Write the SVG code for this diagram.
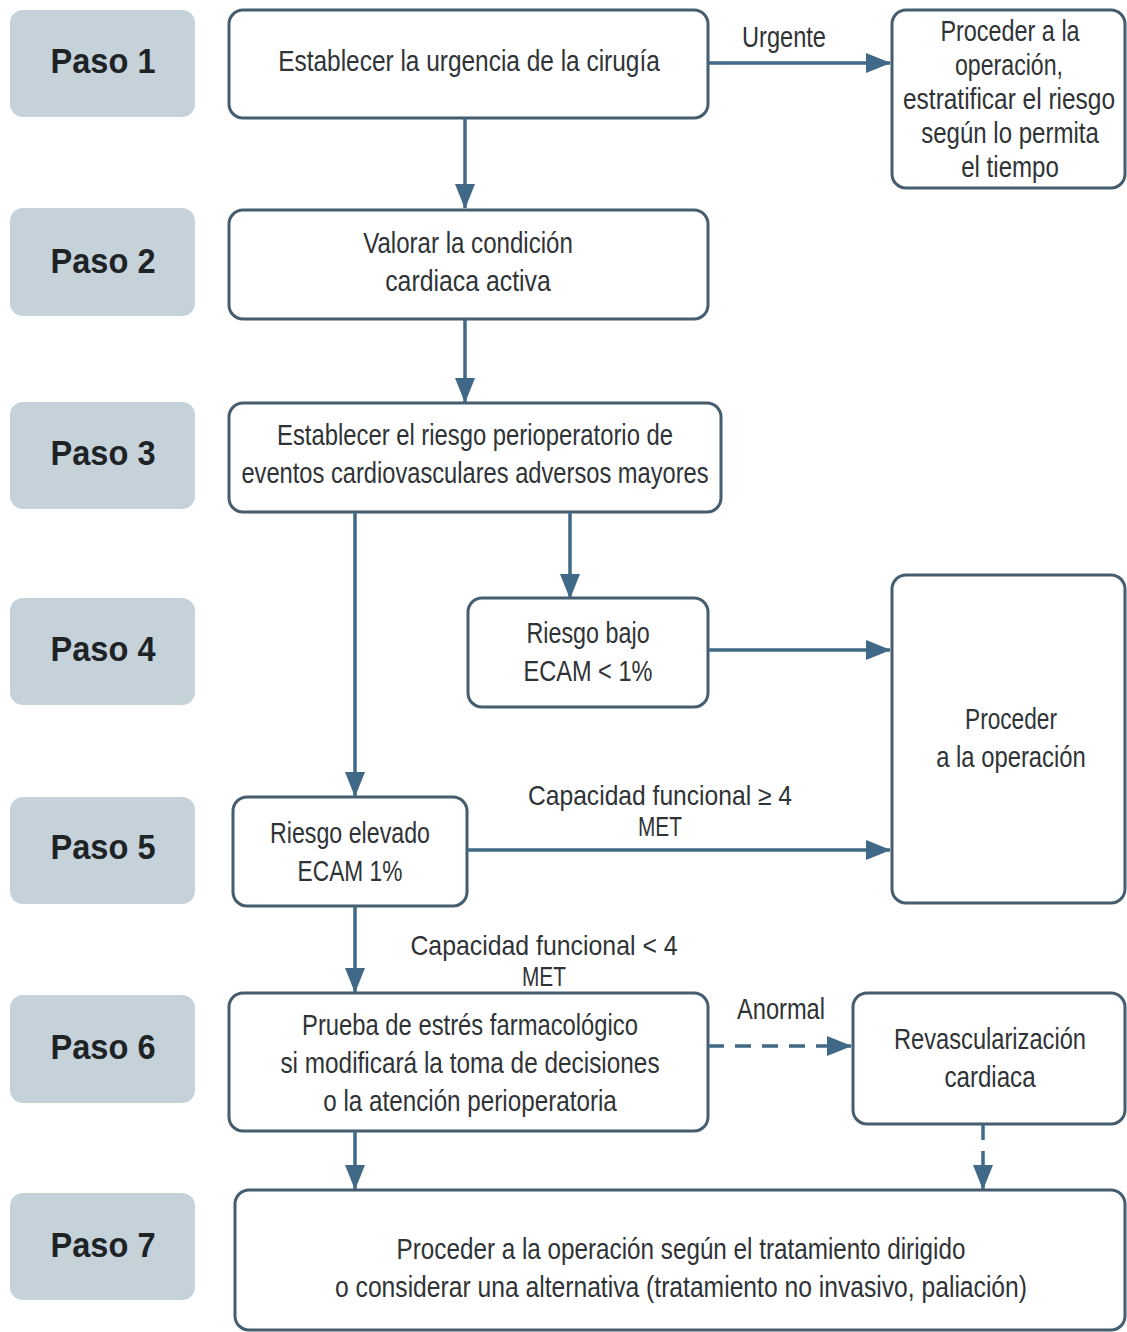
<svg xmlns="http://www.w3.org/2000/svg" width="1127" height="1332" viewBox="0 0 1127 1332">
  <style>
    .step rect { fill: #c6d2da; stroke: none; }
    .step text { font-family: "Liberation Sans", Arial, sans-serif; font-weight: bold; font-size: 35px; fill: #1e2326; text-anchor: middle; }
    .box rect { fill: #ffffff; stroke: #455d6e; stroke-width: 3; }
    text.t { font-family: "Liberation Sans", Arial, sans-serif; font-size: 29px; fill: #2f3336; text-anchor: middle; }
    text.t.sm { font-size: 27px; }
    .edge { fill: none; stroke: #3f6986; stroke-width: 3.5; }
    .dash { stroke-dasharray: 16 11; }
  </style>
  <defs>
    <marker id="arrow" markerUnits="userSpaceOnUse" markerWidth="26" markerHeight="22" refX="24" refY="11" orient="auto">
      <path d="M0,1 L25,11 L0,21 Z" fill="#3f6986"/>
    </marker>
  </defs>
  <rect width="1127" height="1332" fill="#ffffff"/>

  <!-- step labels -->
  <g id="paso1" class="step"><rect x="10" y="10" width="185" height="107" rx="13"/><text x="103" y="73" textLength="105" lengthAdjust="spacingAndGlyphs">Paso 1</text></g>
  <g id="paso2" class="step"><rect x="10" y="208" width="185" height="108" rx="13"/><text x="103" y="273" textLength="105" lengthAdjust="spacingAndGlyphs">Paso 2</text></g>
  <g id="paso3" class="step"><rect x="10" y="402" width="185" height="107" rx="13"/><text x="103" y="465" textLength="105" lengthAdjust="spacingAndGlyphs">Paso 3</text></g>
  <g id="paso4" class="step"><rect x="10" y="598" width="185" height="107" rx="13"/><text x="103" y="661" textLength="105" lengthAdjust="spacingAndGlyphs">Paso 4</text></g>
  <g id="paso5" class="step"><rect x="10" y="797" width="185" height="107" rx="13"/><text x="103" y="859" textLength="105" lengthAdjust="spacingAndGlyphs">Paso 5</text></g>
  <g id="paso6" class="step"><rect x="10" y="995" width="185" height="108" rx="13"/><text x="103" y="1059" textLength="105" lengthAdjust="spacingAndGlyphs">Paso 6</text></g>
  <g id="paso7" class="step"><rect x="10" y="1193" width="185" height="107" rx="13"/><text x="103" y="1257" textLength="105" lengthAdjust="spacingAndGlyphs">Paso 7</text></g>

  <!-- flow nodes; body text is narrowed with a horizontal scale of 0.8 -->
  <g id="urgencia" class="box">
    <rect x="229" y="10" width="479" height="108" rx="14"/>
    <text class="t" transform="translate(469 71) scale(0.8 1)" textLength="477" lengthAdjust="spacingAndGlyphs">Establecer la urgencia de la cirugía</text>
  </g>
  <g id="operar-urgente" class="box">
    <rect x="892" y="10" width="233" height="178" rx="14"/>
    <text class="t" transform="translate(1010 41) scale(0.8 1)" textLength="174" lengthAdjust="spacingAndGlyphs">Proceder a la</text>
    <text class="t" transform="translate(1009 75) scale(0.8 1)" textLength="135" lengthAdjust="spacingAndGlyphs">operación,</text>
    <text class="t" transform="translate(1009 109) scale(0.8 1)" textLength="265" lengthAdjust="spacingAndGlyphs">estratificar el riesgo</text>
    <text class="t" transform="translate(1010 143) scale(0.8 1)" textLength="222" lengthAdjust="spacingAndGlyphs">según lo permita</text>
    <text class="t" transform="translate(1010 177) scale(0.8 1)" textLength="122" lengthAdjust="spacingAndGlyphs">el tiempo</text>
  </g>
  <g id="condicion" class="box">
    <rect x="229" y="210" width="479" height="109" rx="14"/>
    <text class="t" transform="translate(468 253) scale(0.8 1)" textLength="262" lengthAdjust="spacingAndGlyphs">Valorar la condición</text>
    <text class="t" transform="translate(468 291) scale(0.8 1)" textLength="207" lengthAdjust="spacingAndGlyphs">cardiaca activa</text>
  </g>
  <g id="riesgo" class="box">
    <rect x="229" y="403" width="492" height="109" rx="14"/>
    <text class="t" transform="translate(475 445) scale(0.8 1)" textLength="495" lengthAdjust="spacingAndGlyphs">Establecer el riesgo perioperatorio de</text>
    <text class="t" transform="translate(475 483) scale(0.8 1)" textLength="584" lengthAdjust="spacingAndGlyphs">eventos cardiovasculares adversos mayores</text>
  </g>
  <g id="riesgo-bajo" class="box">
    <rect x="468" y="598" width="240" height="109" rx="14"/>
    <text class="t" transform="translate(588 643) scale(0.8 1)" textLength="154" lengthAdjust="spacingAndGlyphs">Riesgo bajo</text>
    <text class="t" transform="translate(588 681) scale(0.8 1)" textLength="161" lengthAdjust="spacingAndGlyphs">ECAM &lt; 1%</text>
  </g>
  <g id="operar" class="box">
    <rect x="892" y="575" width="233" height="328" rx="14"/>
    <text class="t" transform="translate(1011 729) scale(0.8 1)" textLength="115" lengthAdjust="spacingAndGlyphs">Proceder</text>
    <text class="t" transform="translate(1011 767) scale(0.8 1)" textLength="187" lengthAdjust="spacingAndGlyphs">a la operación</text>
  </g>
  <g id="riesgo-elevado" class="box">
    <rect x="233" y="797" width="234" height="109" rx="14"/>
    <text class="t" transform="translate(350 843) scale(0.8 1)" textLength="200" lengthAdjust="spacingAndGlyphs">Riesgo elevado</text>
    <text class="t" transform="translate(350 881) scale(0.8 1)" textLength="131" lengthAdjust="spacingAndGlyphs">ECAM 1%</text>
  </g>
  <g id="prueba-estres" class="box">
    <rect x="229" y="993" width="479" height="138" rx="14"/>
    <text class="t" transform="translate(470 1035) scale(0.8 1)" textLength="420" lengthAdjust="spacingAndGlyphs">Prueba de estrés farmacológico</text>
    <text class="t" transform="translate(470 1073) scale(0.8 1)" textLength="474" lengthAdjust="spacingAndGlyphs">si modificará la toma de decisiones</text>
    <text class="t" transform="translate(470 1111) scale(0.8 1)" textLength="367" lengthAdjust="spacingAndGlyphs">o la atención perioperatoria</text>
  </g>
  <g id="revascularizacion" class="box">
    <rect x="853" y="993" width="272" height="131" rx="14"/>
    <text class="t" transform="translate(990 1049) scale(0.8 1)" textLength="240" lengthAdjust="spacingAndGlyphs">Revascularización</text>
    <text class="t" transform="translate(990 1087) scale(0.8 1)" textLength="114" lengthAdjust="spacingAndGlyphs">cardiaca</text>
  </g>
  <g id="tratamiento" class="box">
    <rect x="235" y="1190" width="890" height="140" rx="14"/>
    <text class="t" transform="translate(681 1259) scale(0.8 1)" textLength="711" lengthAdjust="spacingAndGlyphs">Proceder a la operación según el tratamiento dirigido</text>
    <text class="t" transform="translate(681 1297) scale(0.8 1)" textLength="865" lengthAdjust="spacingAndGlyphs">o considerar una alternativa (tratamiento no invasivo, paliación)</text>
  </g>

  <!-- connectors and their labels -->
  <g id="connectors">
    <path class="edge" d="M708,63 H890" marker-end="url(#arrow)"/>
    <path class="edge" d="M465,118 V208" marker-end="url(#arrow)"/>
    <path class="edge" d="M465,319 V402" marker-end="url(#arrow)"/>
    <path class="edge" d="M570,512 V598" marker-end="url(#arrow)"/>
    <path class="edge" d="M355,512 V796" marker-end="url(#arrow)"/>
    <path class="edge" d="M708,650 H890" marker-end="url(#arrow)"/>
    <path class="edge" d="M467,850 H890" marker-end="url(#arrow)"/>
    <path class="edge" d="M355,906 V992" marker-end="url(#arrow)"/>
    <path class="edge dash" d="M708,1046 H851" marker-end="url(#arrow)"/>
    <path class="edge dash" d="M983,1124 V1189" marker-end="url(#arrow)"/>
    <path class="edge" d="M355,1131 V1189" marker-end="url(#arrow)"/>
    <text class="t" transform="translate(784 47) scale(0.8 1)" textLength="105" lengthAdjust="spacingAndGlyphs">Urgente</text>
    <text class="t sm" transform="translate(660 805) scale(0.8 1)" textLength="330" lengthAdjust="spacingAndGlyphs">Capacidad funcional ≥ 4</text>
    <text class="t sm" transform="translate(660 836) scale(0.8 1)" textLength="55" lengthAdjust="spacingAndGlyphs">MET</text>
    <text class="t sm" transform="translate(544 955) scale(0.8 1)" textLength="334" lengthAdjust="spacingAndGlyphs">Capacidad funcional &lt; 4</text>
    <text class="t sm" transform="translate(544 986) scale(0.8 1)" textLength="55" lengthAdjust="spacingAndGlyphs">MET</text>
    <text class="t" transform="translate(781 1019) scale(0.8 1)" textLength="110" lengthAdjust="spacingAndGlyphs">Anormal</text>
  </g>
</svg>
